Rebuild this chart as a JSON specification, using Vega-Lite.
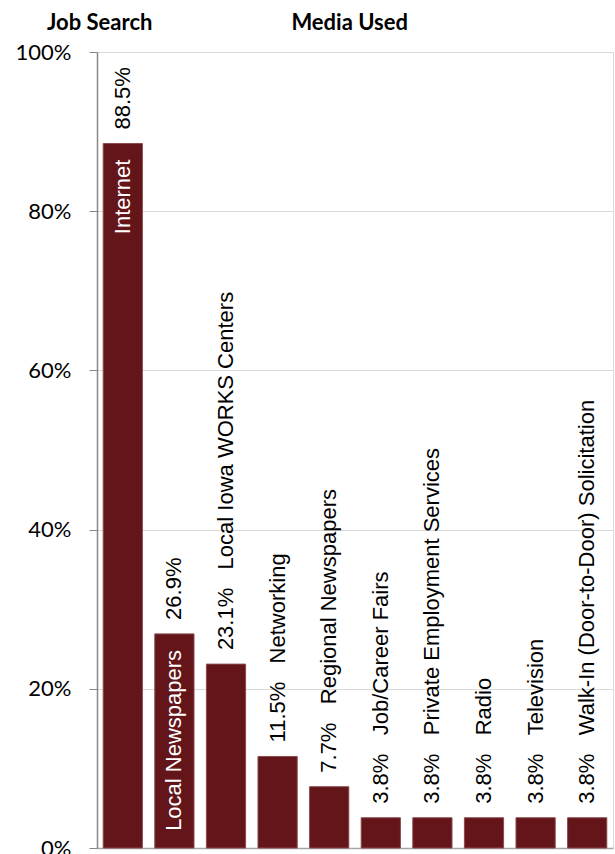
{
  "$schema": "https://vega.github.io/schema/vega-lite/v6.json",
  "autosize": {"type": "none"},
  "padding": {"top": 52, "left": 97, "right": 2, "bottom": 6},
  "width": 516,
  "height": 796,
  "title": {
    "text": "Job Search\u00a0\u00a0\u00a0\u00a0\u00a0\u00a0\u00a0\u00a0\u00a0\u00a0\u00a0\u00a0\u00a0\u00a0\u00a0\u00a0\u00a0\u00a0\u00a0\u00a0\u00a0\u00a0\u00a0\u00a0\u00a0\u00a0Media Used",
    "anchor": "start",
    "frame": "group",
    "dx": -50,
    "offset": 6,
    "font": "Lato",
    "fontSize": 22,
    "fontWeight": "bold",
    "color": "#000000"
  },
  "data": {
    "values": [
      {"media": "Internet", "value": 88.5, "outer": "88.5%", "inner": "Internet"},
      {"media": "Local Newspapers", "value": 26.9, "outer": "26.9%", "inner": "Local Newspapers"},
      {"media": "Local Iowa WORKS Centers", "value": 23.1, "outer": "23.1%\u00a0\u00a0\u00a0Local Iowa WORKS Centers", "inner": null},
      {"media": "Networking", "value": 11.5, "outer": "11.5%\u00a0\u00a0\u00a0Networking", "inner": null},
      {"media": "Regional Newspapers", "value": 7.7, "outer": "7.7%\u00a0\u00a0\u00a0Regional Newspapers", "inner": null},
      {"media": "Job/Career Fairs", "value": 3.8, "outer": "3.8%\u00a0\u00a0\u00a0Job/Career Fairs", "inner": null},
      {"media": "Private Employment Services", "value": 3.8, "outer": "3.8%\u00a0\u00a0\u00a0Private Employment Services", "inner": null},
      {"media": "Radio", "value": 3.8, "outer": "3.8%\u00a0\u00a0\u00a0Radio", "inner": null},
      {"media": "Television", "value": 3.8, "outer": "3.8%\u00a0\u00a0\u00a0Television", "inner": null},
      {"media": "Walk-In (Door-to-Door) Solicitation", "value": 3.8, "outer": "3.8%\u00a0\u00a0\u00a0Walk-In (Door-to-Door) Solicitation", "inner": null}
    ]
  },
  "encoding": {
    "x": {
      "field": "media",
      "type": "nominal",
      "sort": null,
      "scale": {"paddingInner": 0.24, "paddingOuter": 0.12},
      "axis": {"labels": false, "ticks": false, "title": null, "domainColor": "#a6a6a6", "domainWidth": 1.5}
    },
    "y": {
      "field": "value",
      "type": "quantitative",
      "scale": {"domain": [0, 100], "nice": false},
      "axis": {
        "values": [0, 20, 40, 60, 80, 100],
        "labelExpr": "datum.value + '%'",
        "title": null,
        "tickSize": 8,
        "tickColor": "#888888",
        "domainColor": "#888888",
        "domainWidth": 1.5,
        "labelPadding": 18,
        "labelFont": "Lato",
        "labelFontSize": 22,
        "labelColor": "#000000",
        "gridColor": "#d9d9d9",
        "labelBound": false,
        "labelFlush": false
      }
    }
  },
  "layer": [
    {
      "mark": {"type": "bar", "color": "#63151a", "stroke": "#8a4a4c", "strokeWidth": 1}
    },
    {
      "mark": {"type": "text", "angle": 270, "align": "left", "baseline": "middle", "dx": 14, "font": "Liberation Sans", "fontSize": 22, "color": "#000000"},
      "encoding": {"text": {"field": "outer"}}
    },
    {
      "transform": [{"filter": "datum.inner != null"}],
      "mark": {"type": "text", "angle": 270, "align": "right", "baseline": "middle", "dx": -16, "font": "Liberation Sans", "fontSize": 22, "color": "#ffffff"},
      "encoding": {"text": {"field": "inner"}}
    }
  ],
  "config": {
    "view": {"stroke": "#d9d9d9", "strokeWidth": 1},
    "background": "#ffffff"
  }
}
